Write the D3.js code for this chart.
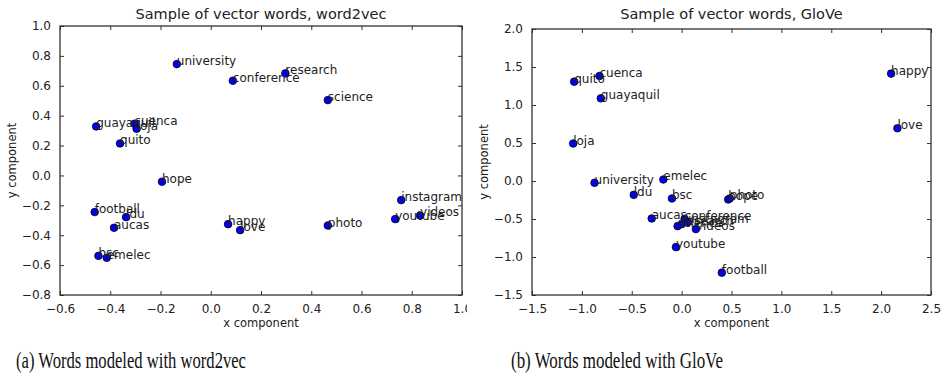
<!DOCTYPE html>
<html>
<head>
<meta charset="utf-8">
<script src="https://cdn.jsdelivr.net/npm/d3@7"></script>
<style>
  body { margin: 0; background: #fff; }
  text { font-family: "DejaVu Sans", sans-serif; fill: #222; }
  .caption { font-family: "Liberation Serif", serif; fill: #111; }
</style>
</head>
<body>
<div id="chart"></div>
<script>
// word2vec panel
var w2vWords = ["university", "conference", "research", "science", "guayaquil", "cuenca", "loja", "quito",
  "hope", "instagram", "youtube", "videos", "football", "ldu", "aucas", "happy", "love", "photo", "bsc", "emelec"];
var w2vX = [-0.135, 0.088, 0.297, 0.466, -0.456, -0.304, -0.295, -0.361,
  -0.194, 0.758, 0.734, 0.833, -0.462, -0.337, -0.385, 0.069, 0.117, 0.466, -0.447, -0.414];
var w2vY = [0.745, 0.634, 0.683, 0.504, 0.328, 0.346, 0.312, 0.214,
  -0.042, -0.165, -0.292, -0.268, -0.245, -0.279, -0.350, -0.326, -0.366, -0.335, -0.538, -0.551];
var w2vXTicks = [-0.6, -0.4, -0.2, 0.0, 0.2, 0.4, 0.6, 0.8, 1.0];
var w2vYTicks = [-0.8, -0.6, -0.4, -0.2, 0.0, 0.2, 0.4, 0.6, 0.8, 1.0];

// GloVe panel
var gloveWords = ["happy", "love", "quito", "cuenca", "guayaquil", "loja", "university", "emelec", "ldu", "bsc",
  "hope", "photo", "aucas", "conference", "science", "research", "instagram", "videos", "youtube", "football"];
var gloveX = [2.10, 2.163, -1.077, -0.823, -0.81, -1.087, -0.873, -0.183, -0.48, -0.097,
  0.467, 0.483, -0.30, 0.03, -0.04, 0.003, 0.063, 0.143, -0.057, 0.403];
var gloveY = [1.413, 0.694, 1.307, 1.382, 1.088, 0.493, -0.024, 0.02, -0.182, -0.23,
  -0.243, -0.23, -0.493, -0.497, -0.594, -0.567, -0.541, -0.633, -0.87, -1.206];
var gloveXTicks = [-1.5, -1.0, -0.5, 0.0, 0.5, 1.0, 1.5, 2.0, 2.5];
var gloveYTicks = [-1.5, -1.0, -0.5, 0.0, 0.5, 1.0, 1.5, 2.0];

var svg = d3.select("#chart").append("svg")
  .attr("width", 947)
  .attr("height", 385);

svg.append("clipPath").attr("id", "leftclip")
  .append("rect").attr("x", 0).attr("y", 0).attr("width", 467).attr("height", 385);

function drawPanel(opts) {
  var g = svg.append("g");
  if (opts.clip) g.attr("clip-path", "url(#" + opts.clip + ")");

  var x = d3.scaleLinear().domain(opts.xDomain).range([opts.left, opts.right]);
  var y = d3.scaleLinear().domain(opts.yDomain).range([opts.bottom, opts.top]);
  var fmt = d3.format(".1f");
  var tickFmt = function(d) { return fmt(d).replace("-", "\u2212"); };

  // axes, ticks point inward like matplotlib classic
  g.append("g")
    .attr("transform", "translate(0," + opts.bottom + ")")
    .call(d3.axisBottom(x).tickValues(opts.xTicks).tickSize(-4).tickPadding(9).tickFormat(tickFmt))
    .call(styleAxis);
  g.append("g")
    .attr("transform", "translate(0," + opts.top + ")")
    .call(d3.axisTop(x).tickValues(opts.xTicks).tickSize(-4).tickFormat(""))
    .call(styleAxis);
  g.append("g")
    .attr("transform", "translate(" + opts.left + ",0)")
    .call(d3.axisLeft(y).tickValues(opts.yTicks).tickSize(-4).tickPadding(9).tickFormat(tickFmt))
    .call(styleAxis);
  g.append("g")
    .attr("transform", "translate(" + opts.right + ",0)")
    .call(d3.axisRight(y).tickValues(opts.yTicks).tickSize(-4).tickFormat(""))
    .call(styleAxis);

  g.append("rect")
    .attr("x", opts.left).attr("y", opts.top)
    .attr("width", opts.right - opts.left).attr("height", opts.bottom - opts.top)
    .attr("fill", "none").attr("stroke", "#333").attr("stroke-width", 1.3);

  var data = opts.words.map(function(w, i) { return {word: w, x: opts.xs[i], y: opts.ys[i]}; });

  g.append("g").selectAll("circle")
    .data(data)
    .enter().append("circle")
      .attr("cx", function(d) { return x(d.x); })
      .attr("cy", function(d) { return y(d.y); })
      .attr("r", 3.8)
      .attr("fill", "#0000ff")
      .attr("stroke", "#000")
      .attr("stroke-width", 0.8);

  g.append("g").selectAll("text")
    .data(data)
    .enter().append("text")
      .attr("x", function(d) { return x(d.x); })
      .attr("y", function(d) { return y(d.y) + 1; })
      .attr("font-size", 12)
      .attr("fill", "#333")
      .text(function(d) { return d.word; });

  var cx = (opts.left + opts.right) / 2;
  g.append("text")
    .attr("x", cx).attr("y", 19)
    .attr("text-anchor", "middle")
    .attr("font-size", 14.5)
    .text(opts.title);
  g.append("text")
    .attr("x", cx).attr("y", 327)
    .attr("text-anchor", "middle")
    .attr("font-size", 11.5)
    .text("x component");
  g.append("text")
    .attr("transform", "translate(" + (opts.left - 44) + "," + ((opts.top + opts.bottom) / 2) + ") rotate(-90)")
    .attr("text-anchor", "middle")
    .attr("font-size", 11.5)
    .text("y component");
}

function styleAxis(sel) {
  sel.select(".domain").remove();
  sel.selectAll(".tick line").attr("stroke", "#333");
  sel.selectAll(".tick text").attr("font-size", 12).attr("fill", "#333")
    .attr("font-family", "DejaVu Sans, sans-serif");
}

drawPanel({
  title: "Sample of vector words, word2vec",
  words: w2vWords, xs: w2vX, ys: w2vY,
  xDomain: [-0.6, 1.0], yDomain: [-0.8, 1.0],
  xTicks: w2vXTicks, yTicks: w2vYTicks,
  left: 60, right: 462, top: 26, bottom: 295,
  clip: "leftclip"
});

drawPanel({
  title: "Sample of vector words, GloVe",
  words: gloveWords, xs: gloveX, ys: gloveY,
  xDomain: [-1.5, 2.5], yDomain: [-1.5, 2.0],
  xTicks: gloveXTicks, yTicks: gloveYTicks,
  left: 532, right: 931, top: 29, bottom: 295
});

// captions
svg.append("text").attr("class", "caption")
  .attr("x", 16).attr("y", 368)
  .attr("font-size", 24)
  .attr("textLength", 230).attr("lengthAdjust", "spacingAndGlyphs")
  .text("(a) Words modeled with word2vec");
svg.append("text").attr("class", "caption")
  .attr("x", 511).attr("y", 368)
  .attr("font-size", 24)
  .attr("textLength", 212).attr("lengthAdjust", "spacingAndGlyphs")
  .text("(b) Words modeled with GloVe");
</script>
</body>
</html>
